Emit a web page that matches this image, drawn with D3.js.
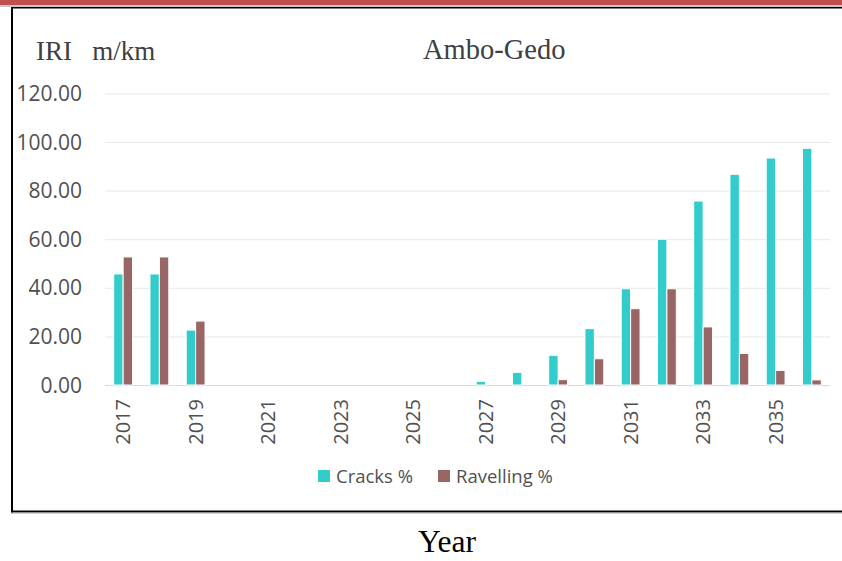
<!DOCTYPE html>
<html>
<head>
<meta charset="utf-8">
<script src="https://cdn.jsdelivr.net/npm/d3@7"></script>
<style>
  html, body { margin: 0; padding: 0; background: #ffffff; }
  svg { display: block; }
</style>
</head>
<body>
<svg id="chart" width="842" height="561"></svg>
<script>
const years = ["2017","2018","2019","2020","2021","2022","2023","2024","2025","2026",
               "2027","2028","2029","2030","2031","2032","2033","2034","2035","2036"];
const cracks = [45.7,45.7,22.6,0,0,0,0,0,0,0,1.5,5.2,12.2,23.2,39.6,60.0,75.7,86.7,93.4,97.4];
const ravelling = [52.7,52.7,26.3,0,0,0,0,0,0,0,0,0,2.2,10.8,31.4,39.6,23.9,13.0,6.0,2.1];
const seriesNames = ["Cracks %", "Ravelling %"];
const seriesColors = ["#33CCCC", "#996666"];
const yTicks = [0, 20, 40, 60, 80, 100, 120];
const xTickLabels = ["2017","2019","2021","2023","2025","2027","2029","2031","2033","2035"];

const svg = d3.select("#chart");

// frame decorations
svg.append("rect").attr("x", 0).attr("y", 0).attr("width", 842).attr("height", 5).attr("fill", "#C0504D");
svg.append("rect").attr("x", 0).attr("y", 5).attr("width", 842).attr("height", 2).attr("fill", "#c8c8c8");
svg.append("line").attr("x1", 11).attr("x2", 842).attr("y1", 7.75).attr("y2", 7.75)
  .attr("stroke", "#000").attr("stroke-width", 1.5);
svg.append("line").attr("x1", 12).attr("x2", 12).attr("y1", 7).attr("y2", 512.5)
  .attr("stroke", "#000").attr("stroke-width", 2);
svg.append("line").attr("x1", 11).attr("x2", 842).attr("y1", 511.5).attr("y2", 511.5)
  .attr("stroke", "#000").attr("stroke-width", 2);
svg.append("line").attr("x1", 11).attr("x2", 842).attr("y1", 513.2).attr("y2", 513.2)
  .attr("stroke", "#bdbdbd").attr("stroke-width", 1);

// scales
const y = d3.scaleLinear().domain([0, 120]).range([385, 93.4]);
const x0 = d3.scaleBand().domain(years).range([105, 830]).paddingInner(0.48).paddingOuter(0.24);
const x1 = d3.scaleBand().domain(seriesNames).range([0, x0.bandwidth()]);

// gridlines
svg.append("g").selectAll("line").data(yTicks).join("line")
  .attr("x1", 105).attr("x2", 830)
  .attr("y1", d => y(d) + 0.5).attr("y2", d => y(d) + 0.5)
  .attr("stroke", d => d === 0 ? "#d9d9d9" : "#e8e8e8").attr("stroke-width", 1);

// y labels
svg.append("g").selectAll("text").data(yTicks).join("text")
  .attr("x", 82).attr("y", d => y(d)).attr("dy", "0.36em")
  .attr("text-anchor", "end")
  .attr("font-family", "'Open Sans', sans-serif").attr("font-size", 21)
  .attr("fill", "#505050")
  .text(d => d3.format(".2f")(d));

// bars
const data = years.map((yr, i) => ({ year: yr, vals: [cracks[i], ravelling[i]] }));
const groups = svg.append("g").selectAll("g").data(data).join("g")
  .attr("transform", d => `translate(${x0(d.year)},0)`);
groups.selectAll("rect").data(d => d.vals.map((v, k) => ({ v, k })).filter(e => e.v > 0)).join("rect")
  .attr("x", d => x1(seriesNames[d.k]))
  .attr("width", x1.bandwidth())
  .attr("y", d => y(d.v))
  .attr("height", d => y(0) - y(d.v))
  .attr("fill", d => seriesColors[d.k])
  .attr("stroke", "#ffffff").attr("stroke-width", 1);

// x labels (rotated)
svg.append("g").selectAll("text").data(xTickLabels).join("text")
  .attr("transform", d => `translate(${x0(d) + x0.bandwidth() / 2 + 7},399) rotate(-90)`)
  .attr("text-anchor", "end")
  .attr("font-family", "'Open Sans', sans-serif").attr("font-size", 20)
  .attr("fill", "#505050")
  .text(d => d);

// titles
svg.append("text").attr("x", 36).attr("y", 60)
  .attr("font-family", "'Liberation Serif', 'Times New Roman', serif").attr("font-size", 27)
  .attr("fill", "#404040").style("white-space", "pre")
  .text("IRI   m/km");
svg.append("text").attr("x", 423).attr("y", 59)
  .attr("font-family", "'Liberation Serif', 'Times New Roman', serif").attr("font-size", 28.5)
  .attr("fill", "#404040")
  .text("Ambo-Gedo");
svg.append("text").attr("x", 418).attr("y", 552)
  .attr("font-family", "'Liberation Serif', 'Times New Roman', serif").attr("font-size", 31.5)
  .attr("fill", "#000")
  .text("Year");

// legend
const legX = [318, 438];
const leg = svg.append("g").selectAll("g").data(seriesNames).join("g")
  .attr("transform", (d, i) => `translate(${legX[i]},470)`);
leg.append("rect").attr("width", 12).attr("height", 12).attr("fill", (d, i) => seriesColors[i]);
leg.append("text").attr("x", 18).attr("y", 12.5)
  .attr("font-family", "'Open Sans', sans-serif").attr("font-size", 18.5)
  .attr("fill", "#505050")
  .text(d => d);
</script>
</body>
</html>
